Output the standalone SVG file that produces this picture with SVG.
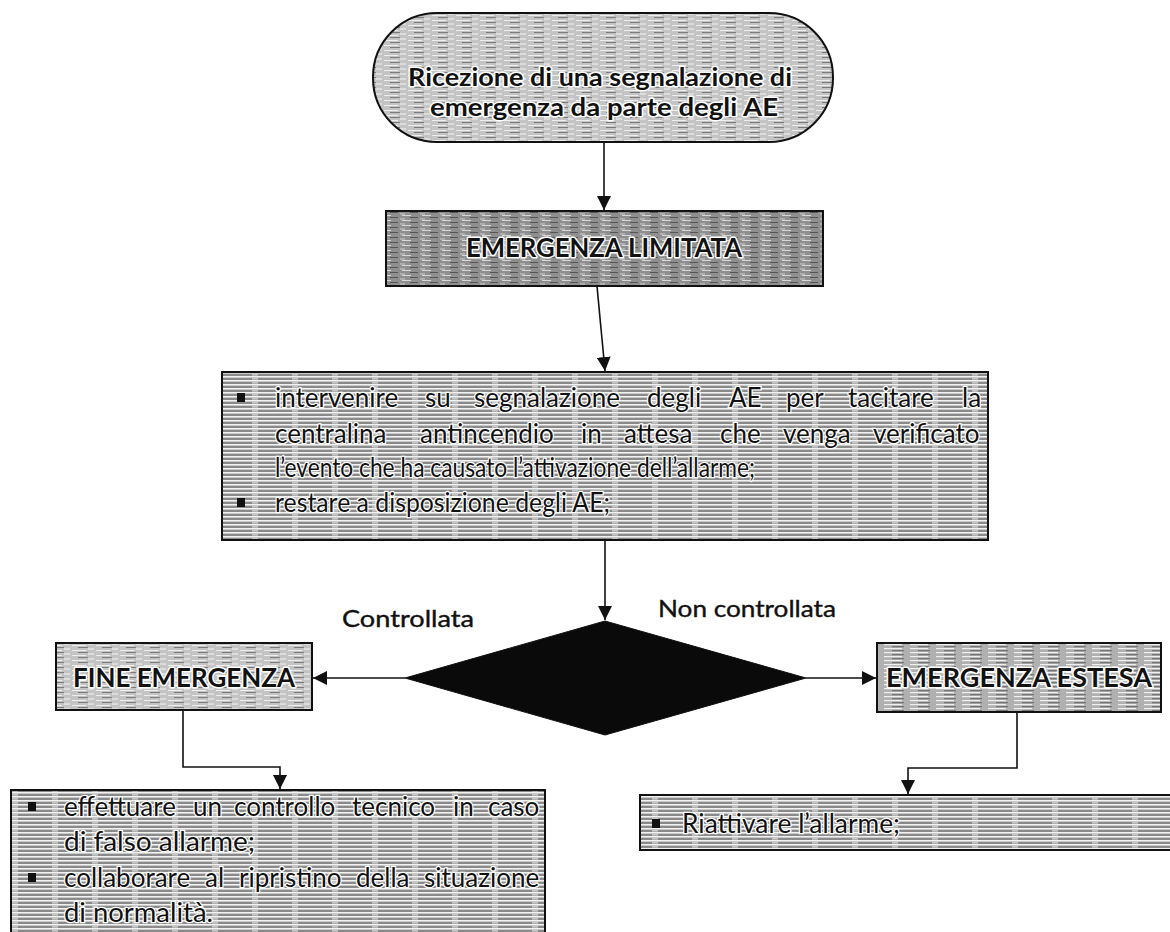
<svg xmlns="http://www.w3.org/2000/svg" width="1170" height="932" viewBox="0 0 1170 932">
<style>
.t{font-family:Lato,"Open Sans","Liberation Sans",sans-serif;fill:#111}
.b{font-weight:bold;stroke:#fff;stroke-width:3;paint-order:stroke;stroke-linejoin:round}
.body{font-size:26px;stroke:#fff;stroke-width:2.5;paint-order:stroke}
.lbl{font-size:24px;fill:#111;stroke:#111;stroke-width:0.4}
.box{stroke:#111;stroke-width:2}
.c{fill:none;stroke:#111;stroke-width:1.6}
</style>
<defs>
<pattern id="pLines" width="40" height="4" patternUnits="userSpaceOnUse">
<rect width="40" height="4" fill="#8a8a8a"/>
<rect y="0" width="40" height="1.6" fill="#f2f2f2"/>
<rect x="12" y="2.4" width="6" height="1" fill="#eee"/>
</pattern>
<pattern id="pLight" width="24" height="5" patternUnits="userSpaceOnUse">
<rect width="24" height="5" fill="#c4c4c4"/>
<rect x="0" y="0" width="14" height="1" fill="#eeeeee"/>
<rect x="6" y="2" width="10" height="1" fill="#7a7a7a"/>
<rect x="16" y="3.5" width="6" height="1" fill="#f5f5f5"/>
</pattern>
<pattern id="pDark" width="20" height="5" patternUnits="userSpaceOnUse">
<rect width="20" height="5" fill="#8f8f8f"/>
<rect x="2" y="0" width="9" height="1" fill="#d8d8d8"/>
<rect x="10" y="2" width="8" height="1" fill="#555"/>
<rect x="0" y="3.5" width="5" height="1" fill="#cfcfcf"/>
</pattern>
<pattern id="pMid" width="26" height="4" patternUnits="userSpaceOnUse">
<rect width="26" height="4" fill="#b0b0b0"/>
<rect x="0" y="0" width="18" height="1.2" fill="#f0f0f0"/>
<rect x="8" y="2.2" width="12" height="1" fill="#666"/>
</pattern>
<marker id="ah2" viewBox="0 0 10 10" refX="10" refY="5" markerWidth="14" markerHeight="14" markerUnits="userSpaceOnUse" orient="auto">
<path d="M0,0 L10,5 L0,10 z" fill="#111"/>
</marker>
</defs>
<rect width="1170" height="932" fill="#fff"/>

<g id="connectors">
<line class="c" x1="604" y1="142" x2="604" y2="210" marker-end="url(#ah2)"/>
<line class="c" x1="597" y1="286" x2="605" y2="371" marker-end="url(#ah2)"/>
<line class="c" x1="605" y1="540" x2="605" y2="620" marker-end="url(#ah2)"/>
<line class="c" x1="405" y1="678" x2="313" y2="678" marker-end="url(#ah2)"/>
<line class="c" x1="806" y1="678" x2="876" y2="678" marker-end="url(#ah2)"/>
<polyline class="c" points="183,710 183,767 280,767 280,789" marker-end="url(#ah2)"/>
<polyline class="c" points="1017,712 1017,768 908,768 908,794" marker-end="url(#ah2)"/>
</g>

<g id="start">
<rect class="box" x="373" y="13" width="460" height="129" rx="64" ry="64" fill="url(#pLight)"/>
<text class="t b" x="600" y="86" font-size="25" text-anchor="middle" textLength="384" lengthAdjust="spacingAndGlyphs">Ricezione di una segnalazione di</text>
<text class="t b" x="604" y="116" font-size="25" text-anchor="middle" textLength="348" lengthAdjust="spacingAndGlyphs">emergenza  da parte degli AE</text>
</g>

<g id="emergenza-limitata">
<rect class="box" x="386" y="211" width="437" height="75" fill="url(#pDark)"/>
<text class="t b" x="604" y="257" font-size="27" text-anchor="middle" textLength="276" lengthAdjust="spacingAndGlyphs">EMERGENZA LIMITATA</text>
</g>

<g id="azioni-limitata">
<rect class="box" x="222" y="372" width="766" height="168" fill="url(#pLines)"/>
<rect x="237" y="393" width="8" height="9" fill="#111"/>
<rect x="237" y="498" width="8" height="9" fill="#111"/>
<text class="t body" y="407"><tspan x="275">intervenire</tspan><tspan x="425">su</tspan><tspan x="474">segnalazione</tspan><tspan x="647">degli</tspan><tspan x="729">AE</tspan><tspan x="786">per</tspan><tspan x="848">tacitare</tspan><tspan x="962">la</tspan></text>
<text class="t body" y="443"><tspan x="275">centralina</tspan><tspan x="420">antincendio</tspan><tspan x="581">in</tspan><tspan x="624">attesa</tspan><tspan x="720">che</tspan><tspan x="783">venga</tspan><tspan x="873">verificato</tspan></text>
<text class="t body" x="275" y="477" textLength="480" lengthAdjust="spacingAndGlyphs">l’evento che ha causato l’attivazione dell’allarme;</text>
<text class="t body" x="275" y="512" textLength="335" lengthAdjust="spacingAndGlyphs">restare a disposizione degli AE;</text>
</g>

<g id="decisione">
<polygon points="605,621 806,678 605,735 405,678" fill="#0a0a0a" stroke="#111" stroke-width="1"/>
<text class="t lbl" x="342" y="627" textLength="132" lengthAdjust="spacingAndGlyphs">Controllata</text>
<text class="t lbl" x="658" y="617" textLength="178" lengthAdjust="spacingAndGlyphs">Non controllata</text>
</g>

<g id="fine-emergenza">
<rect class="box" x="56" y="643" width="256" height="67" fill="url(#pLight)"/>
<text class="t b" x="184" y="687" font-size="26" text-anchor="middle" textLength="222" lengthAdjust="spacingAndGlyphs">FINE EMERGENZA</text>
</g>

<g id="emergenza-estesa">
<rect class="box" x="877" y="643" width="284" height="69" fill="url(#pMid)"/>
<text class="t b" x="1019" y="687" font-size="26" text-anchor="middle" textLength="266" lengthAdjust="spacingAndGlyphs">EMERGENZA ESTESA</text>
</g>

<g id="azioni-fine">
<rect class="box" x="11" y="790" width="534" height="150" fill="url(#pLines)"/>
<rect x="28" y="802" width="8" height="9" fill="#111"/>
<rect x="28" y="873" width="8" height="9" fill="#111"/>
<text class="t body" y="816"><tspan x="64">effettuare</tspan><tspan x="193">un</tspan><tspan x="234">controllo</tspan><tspan x="352">tecnico</tspan><tspan x="453">in</tspan><tspan x="488">caso</tspan></text>
<text class="t body" x="64" y="851" textLength="191" lengthAdjust="spacingAndGlyphs">di falso allarme;</text>
<text class="t body" y="887"><tspan x="64">collaborare</tspan><tspan x="205">al</tspan><tspan x="239">ripristino</tspan><tspan x="356">della</tspan><tspan x="424">situazione</tspan></text>
<text class="t body" x="64" y="922" textLength="149" lengthAdjust="spacingAndGlyphs">di normalità.</text>
</g>

<g id="azioni-estesa">
<rect class="box" x="640" y="795" width="535" height="55" fill="url(#pLines)"/>
<rect x="652" y="819" width="8" height="9" fill="#111"/>
<text class="t body" x="682" y="833" textLength="218" lengthAdjust="spacingAndGlyphs">Riattivare l’allarme;</text>
</g>
</svg>
